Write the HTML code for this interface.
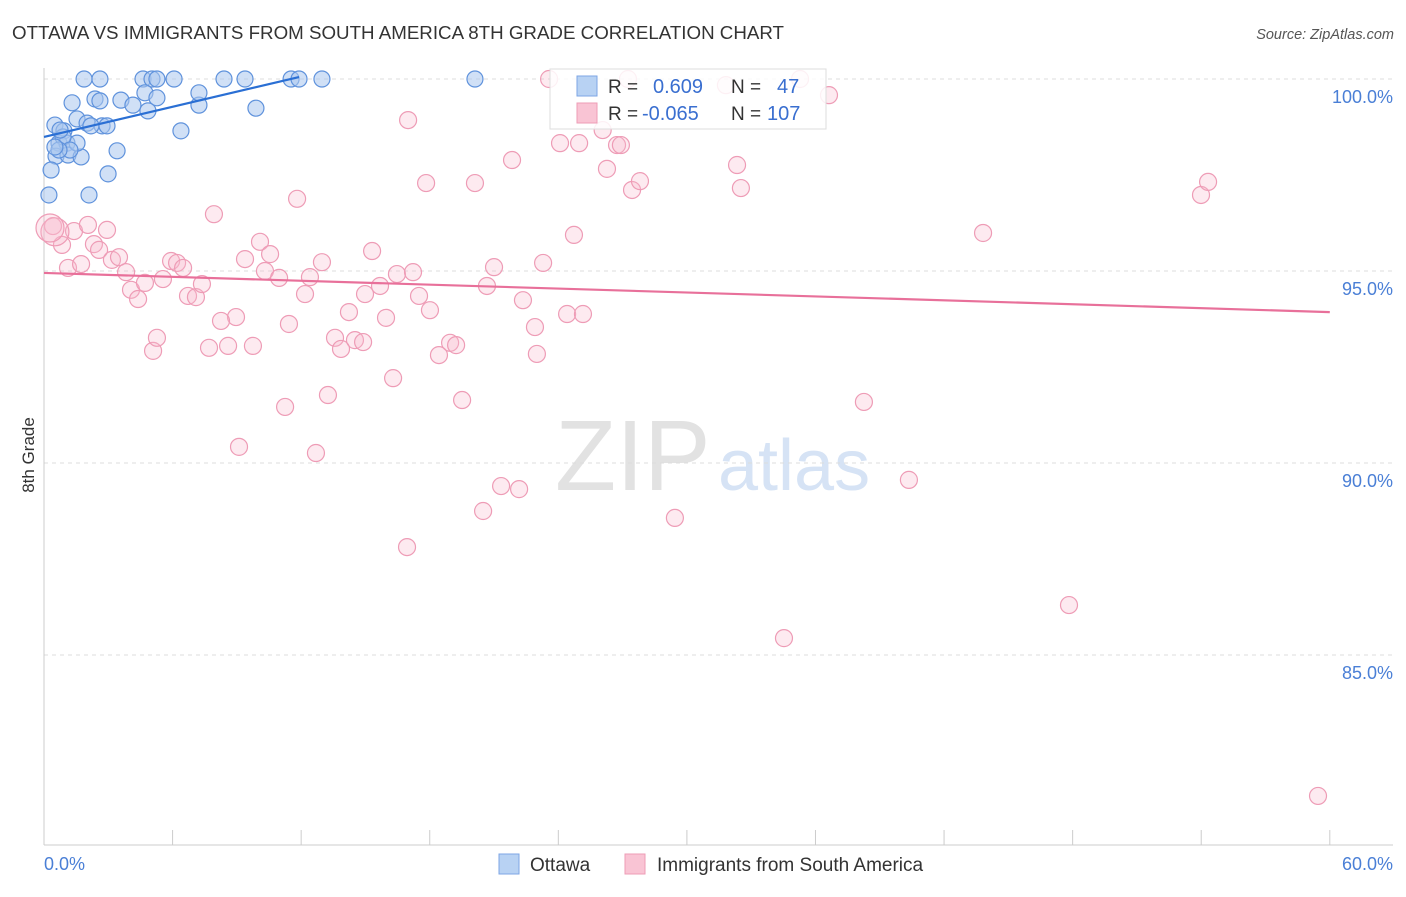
<!DOCTYPE html>
<html><head><meta charset="utf-8">
<style>
body{margin:0;background:#fff;font-family:"Liberation Sans",sans-serif;}
svg text{font-family:"Liberation Sans",sans-serif;}
</style></head>
<body>
<svg id="chart" width="1406" height="892" xmlns="http://www.w3.org/2000/svg">
<text x="12" y="39" font-size="18" fill="#333" textLength="772" lengthAdjust="spacingAndGlyphs">OTTAWA VS IMMIGRANTS FROM SOUTH AMERICA 8TH GRADE CORRELATION CHART</text>
<text x="1394" y="39" font-size="14.5" fill="#555" font-style="italic" text-anchor="end">Source: ZipAtlas.com</text>
<text x="34" y="455" font-size="17" fill="#333" text-anchor="middle" transform="rotate(-90 34 455)">8th Grade</text>
<g>
<text x="555" y="490" font-size="100" font-family="Liberation Serif,serif" fill="#e2e2e2">ZIP</text>
<text x="718" y="490" font-size="72" fill="#d6e3f5">atlas</text>
</g>
<g id="grid"></g>
<g id="axes"></g>
<g id="pink"></g>
<g id="blue"></g>
<g id="lines"></g>
<g>
<rect x="550" y="69" width="276" height="60" fill="#fff" fill-opacity="0.85" stroke="#ddd"/>
<rect x="577" y="76" width="20" height="20" fill="#b8d2f3" stroke="#7ea6e4"/>
<rect x="577" y="103" width="20" height="20" fill="#f9c4d4" stroke="#ee9cb6"/>
<text x="608" y="93" font-size="19" fill="#333">R =</text>
<text x="653" y="93" font-size="20" fill="#3a6fd0">0.609</text>
<text x="731" y="93" font-size="19" fill="#333">N =</text>
<text x="777" y="93" font-size="20" fill="#3a6fd0">47</text>
<text x="608" y="120" font-size="19" fill="#333">R =</text>
<text x="642" y="120" font-size="20" fill="#3a6fd0">-0.065</text>
<text x="731" y="120" font-size="19" fill="#333">N =</text>
<text x="767" y="120" font-size="20" fill="#3a6fd0">107</text>
</g>
<g>
<rect x="499" y="854" width="20" height="20" fill="#b8d2f3" stroke="#7ea6e4"/>
<text x="530" y="871" font-size="19" fill="#333">Ottawa</text>
<rect x="625" y="854" width="20" height="20" fill="#f9c4d4" stroke="#ee9cb6"/>
<text x="657" y="871" font-size="19" fill="#333">Immigrants from South America</text>
</g>
</svg>
<script>
const yTicks=[100,95,90,85];
const yTickLabels=["100.0%","95.0%","90.0%","85.0%"];
const xTickCount=10;
const xLabels=["0.0%","60.0%"];
const blueX=[1.87,2.61,4.62,5.04,5.27,6.07,8.40,9.38,11.53,11.90,12.97,20.11,1.31,2.38,2.61,3.59,4.15,4.71,5.27,4.85,7.23,7.23,9.89,6.39,0.51,0.93,1.54,2.01,2.71,2.94,3.41,0.70,1.07,0.56,1.12,1.73,1.54,0.33,2.99,0.23,2.10,0.89,1.21,0.70,0.51,2.19,0.75];
const blueY=[100,100,100,100,100,100,100,100,100,100,100,100,99.38,99.48,99.43,99.45,99.32,99.64,99.51,99.17,99.32,99.64,99.24,98.65,98.80,98.65,98.96,98.85,98.78,98.78,98.13,98.33,98.33,97.99,98.02,97.97,98.33,97.63,97.53,96.98,96.98,98.49,98.15,98.15,98.23,98.78,98.67];
const pinkX=[23.57,27.25,31.82,35.28,36.63,16.99,24.08,24.97,26.74,26.92,26.07,21.84,17.83,20.11,26.27,27.44,27.81,32.34,32.52,53.99,54.32,11.81,7.93,43.82,24.73,15.31,10.08,9.38,10.55,12.97,21.00,23.29,10.31,10.97,12.41,16.47,17.22,20.67,15.68,17.50,14.98,12.18,22.35,24.41,25.15,14.23,15.96,18.01,22.91,8.96,8.26,11.43,13.58,14.51,14.89,13.86,18.95,19.23,18.43,23.00,7.70,8.59,9.75,16.29,19.51,13.25,11.25,38.26,9.10,12.69,21.33,22.17,40.36,20.49,29.44,16.94,47.83,34.53,59.45,0.42,0.84,1.12,1.40,2.05,2.33,1.73,2.57,2.94,3.17,3.50,3.83,4.06,4.39,4.71,5.09,5.27,5.55,5.93,6.21,6.49,6.72,7.09,7.37,0.51,0.28];
const pinkY=[100,100,99.84,100,99.58,98.93,98.33,98.33,98.28,98.28,98.67,97.89,97.29,97.29,97.66,97.11,97.34,97.76,97.16,96.98,97.32,96.88,96.48,95.99,95.94,95.52,95.76,95.31,95.44,95.23,95.10,95.21,95.00,94.82,94.84,94.92,94.97,94.61,94.61,94.35,94.40,94.40,94.24,93.88,93.88,93.93,93.78,93.98,93.54,93.80,93.70,93.62,93.26,93.20,93.15,92.97,93.13,93.07,92.81,92.84,93.00,93.05,93.05,92.21,91.64,91.77,91.46,91.59,90.42,90.26,89.40,89.32,89.56,88.75,88.57,87.81,86.30,85.44,81.33,96.17,95.68,95.08,96.04,96.20,95.70,95.18,95.55,96.07,95.29,95.36,94.97,94.51,94.27,94.69,92.92,93.26,94.79,95.26,95.21,95.08,94.35,94.32,94.66,96.02,96.12];
const blueTrend=[[0,98.49],[11.9,100.05]];
const pinkTrend=[[0,94.95],[60,93.93]];
const NS="http://www.w3.org/2000/svg";
const sx=v=>44+v*21.43;
const sy=v=>79+(100-v)*38.4;
function mk(tag,attrs,parent){const e=document.createElementNS(NS,tag);for(const k in attrs)e.setAttribute(k,attrs[k]);parent.appendChild(e);return e;}
const grid=document.getElementById('grid'),axes=document.getElementById('axes');
yTicks.forEach((t,i)=>{
 const l=mk('line',{x1:44,x2:1393,y1:sy(t),y2:sy(t),stroke:'#dcdcdc','stroke-dasharray':'4 4'},grid);
 
 
 const tx=mk('text',{x:1393,y:sy(t)+24,'font-size':18,fill:'#4a7fd6','text-anchor':'end'},axes);
 tx.textContent=yTickLabels[i];
 
 
});
const ax=mk('line',{x1:44,x2:1393,y1:845,y2:845,stroke:'#ccc'},axes);


const ay=mk('line',{x1:44,x2:44,y1:68,y2:845,stroke:'#ccc'},axes);


for(let i=0;i<=xTickCount;i++){
 const x=sx(i*60/xTickCount);
 const t=mk('line',{x1:x,x2:x,y1:830,y2:845,stroke:'#ccc'},axes);
 
 
}
const xl0=mk('text',{x:44,y:870,'font-size':18,fill:'#4a7fd6'},axes);
xl0.textContent=xLabels[0];


const xl1=mk('text',{x:1393,y:870,'font-size':18,fill:'#4a7fd6','text-anchor':'end'},axes);
xl1.textContent=xLabels[1];


const pg=document.getElementById('pink');
pinkX.forEach((v,i)=>{
 const big=(i===pinkX.length-1||i===pinkX.length-2);
 const c=mk('circle',{cx:sx(v),cy:sy(pinkY[i]),r:big?14:8.5,fill:'#f7b8cc','fill-opacity':0.3,stroke:'#ee9cb6','stroke-width':1.2},pg);
 
 
});
const bg=document.getElementById('blue');
blueX.forEach((v,i)=>{
 const c=mk('circle',{cx:sx(v),cy:sy(blueY[i]),r:8,fill:'#a9c7ef','fill-opacity':0.55,stroke:'#5f92dc','stroke-width':1.2},bg);
 
 
});
const lg=document.getElementById('lines');
const bl=mk('line',{x1:sx(blueTrend[0][0]),y1:sy(blueTrend[0][1]),x2:sx(blueTrend[1][0]),y2:sy(blueTrend[1][1]),stroke:'#2a6fd4','stroke-width':2.2},lg);


const pl=mk('line',{x1:sx(pinkTrend[0][0]),y1:sy(pinkTrend[0][1]),x2:sx(pinkTrend[1][0]),y2:sy(pinkTrend[1][1]),stroke:'#e8709a','stroke-width':2.2},lg);


</script>
</body></html>
